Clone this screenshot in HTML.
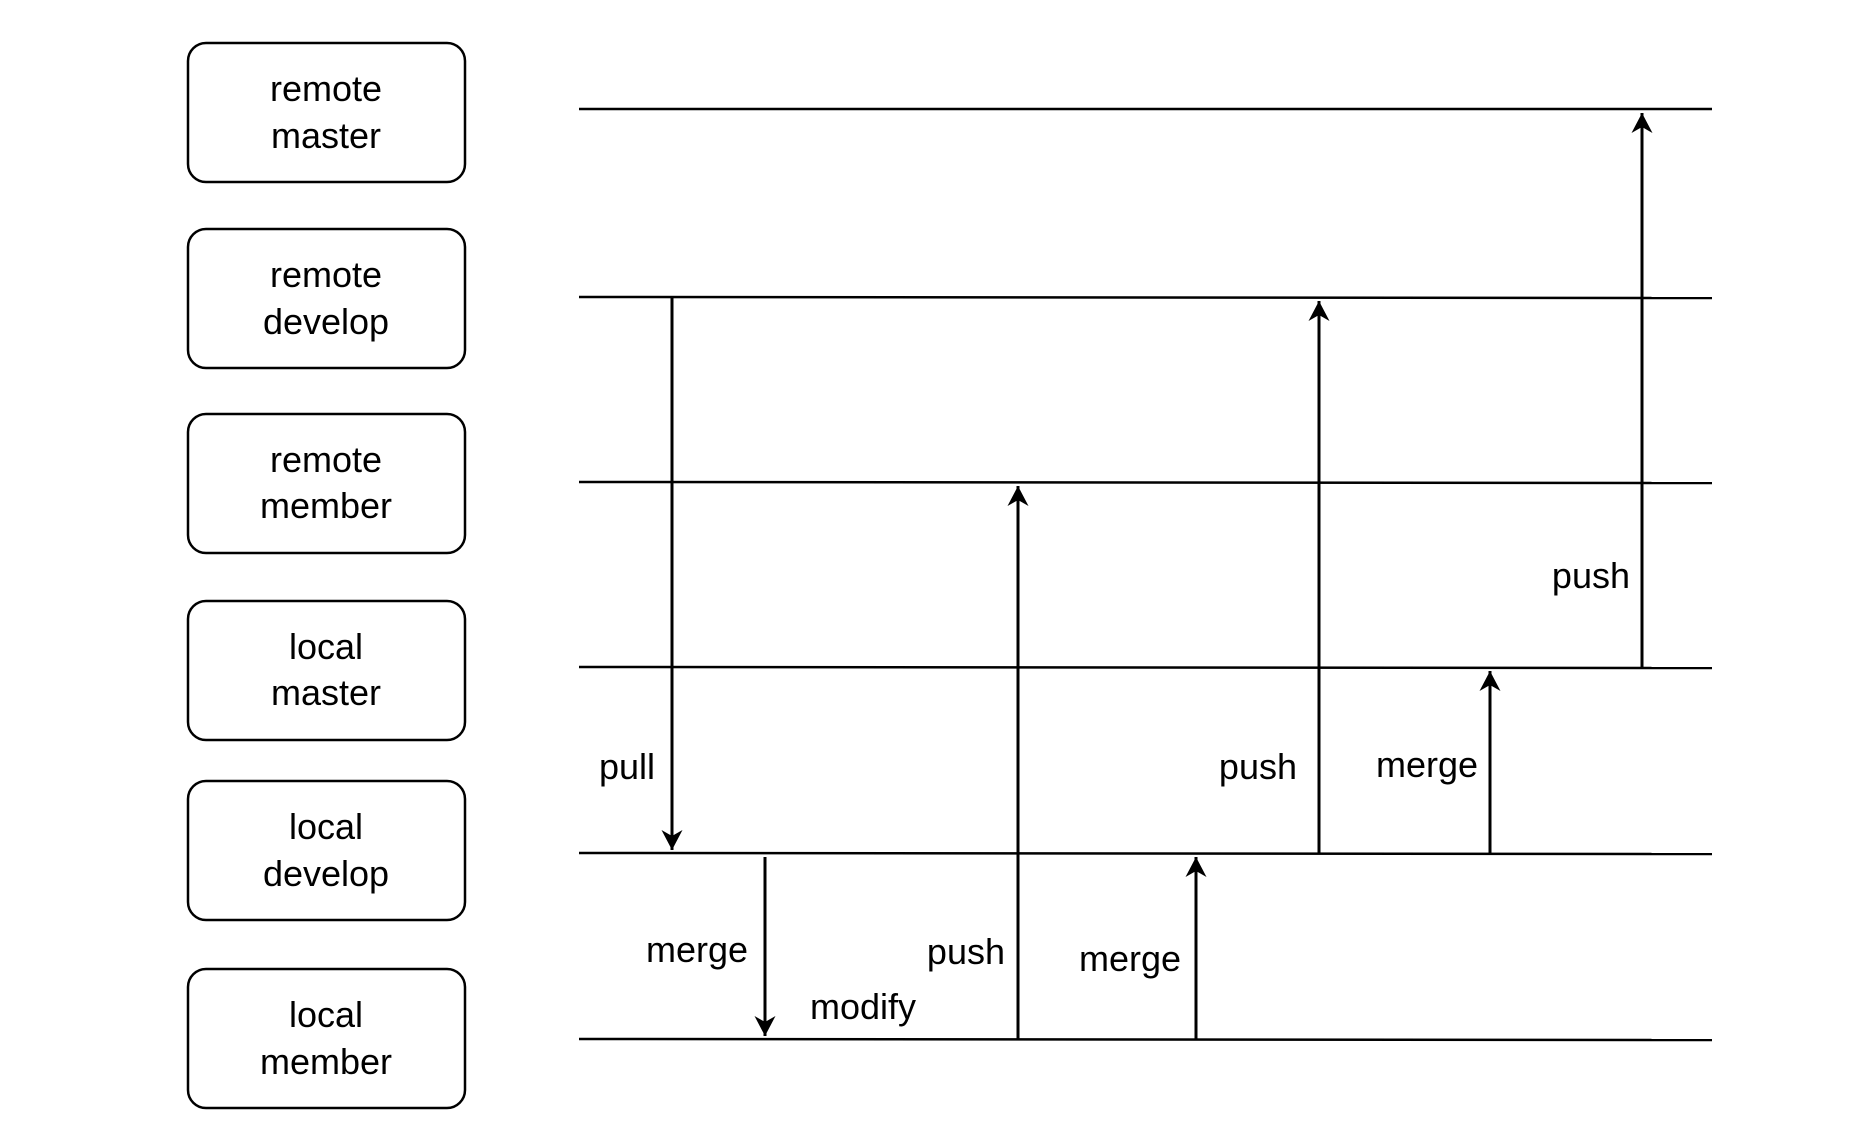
<!DOCTYPE html>
<html><head><meta charset="utf-8"><style>
html,body{margin:0;padding:0;background:#fff;}
svg{display:block;}
text{font-family:"Liberation Sans",Arial,sans-serif;font-size:36px;fill:#000;}
</style></head><body>
<svg width="1863" height="1133" viewBox="0 0 1863 1133" xmlns="http://www.w3.org/2000/svg">
<defs>
<marker id="ah" markerUnits="userSpaceOnUse" markerWidth="24" markerHeight="24" viewBox="0 0 24 24" refX="22" refY="12" orient="auto">
<path d="M2,1.5 L22,12 L2,22.5 L8,12 Z" fill="#000"/>
</marker>
</defs>
<g fill="#fff" stroke="#000" stroke-width="2.5">
<rect x="188" y="43" width="277" height="139" rx="18"/>
<rect x="188" y="229" width="277" height="139" rx="18"/>
<rect x="188" y="414" width="277" height="139" rx="18"/>
<rect x="188" y="601" width="277" height="139" rx="18"/>
<rect x="188" y="781" width="277" height="139" rx="18"/>
<rect x="188" y="969" width="277" height="139" rx="18"/>
</g>
<g text-anchor="middle">
<text x="326" y="101">remote</text><text x="326" y="148">master</text>
<text x="326" y="287">remote</text><text x="326" y="334">develop</text>
<text x="326" y="472">remote</text><text x="326" y="518">member</text>
<text x="326" y="659">local</text><text x="326" y="705">master</text>
<text x="326" y="839">local</text><text x="326" y="886">develop</text>
<text x="326" y="1027">local</text><text x="326" y="1074">member</text>
</g>
<g stroke="#000" stroke-width="2.5">
<line x1="579" y1="109" x2="1712" y2="109"/>
<line x1="579" y1="297" x2="1712" y2="298"/>
<line x1="579" y1="482" x2="1712" y2="483"/>
<line x1="579" y1="667" x2="1712" y2="668"/>
<line x1="579" y1="853" x2="1712" y2="854"/>
<line x1="579" y1="1039" x2="1712" y2="1040"/>
</g>
<g stroke="#000" stroke-width="3" marker-end="url(#ah)">
<line x1="672" y1="298" x2="672" y2="850"/>
<line x1="765" y1="857" x2="765" y2="1036"/>
<line x1="1018" y1="1039" x2="1018" y2="486"/>
<line x1="1196" y1="1039" x2="1196" y2="857"/>
<line x1="1319" y1="854" x2="1319" y2="301"/>
<line x1="1490" y1="854" x2="1490" y2="671"/>
<line x1="1642" y1="668" x2="1642" y2="113"/>
</g>
<g text-anchor="end">
<text x="655" y="779">pull</text>
<text x="1297" y="779">push</text>
<text x="1478" y="777">merge</text>
<text x="1630" y="588">push</text>
<text x="748" y="962">merge</text>
<text x="1005" y="964">push</text>
<text x="1181" y="971">merge</text>
<text x="916" y="1019">modify</text>
</g>
</svg>
</body></html>
